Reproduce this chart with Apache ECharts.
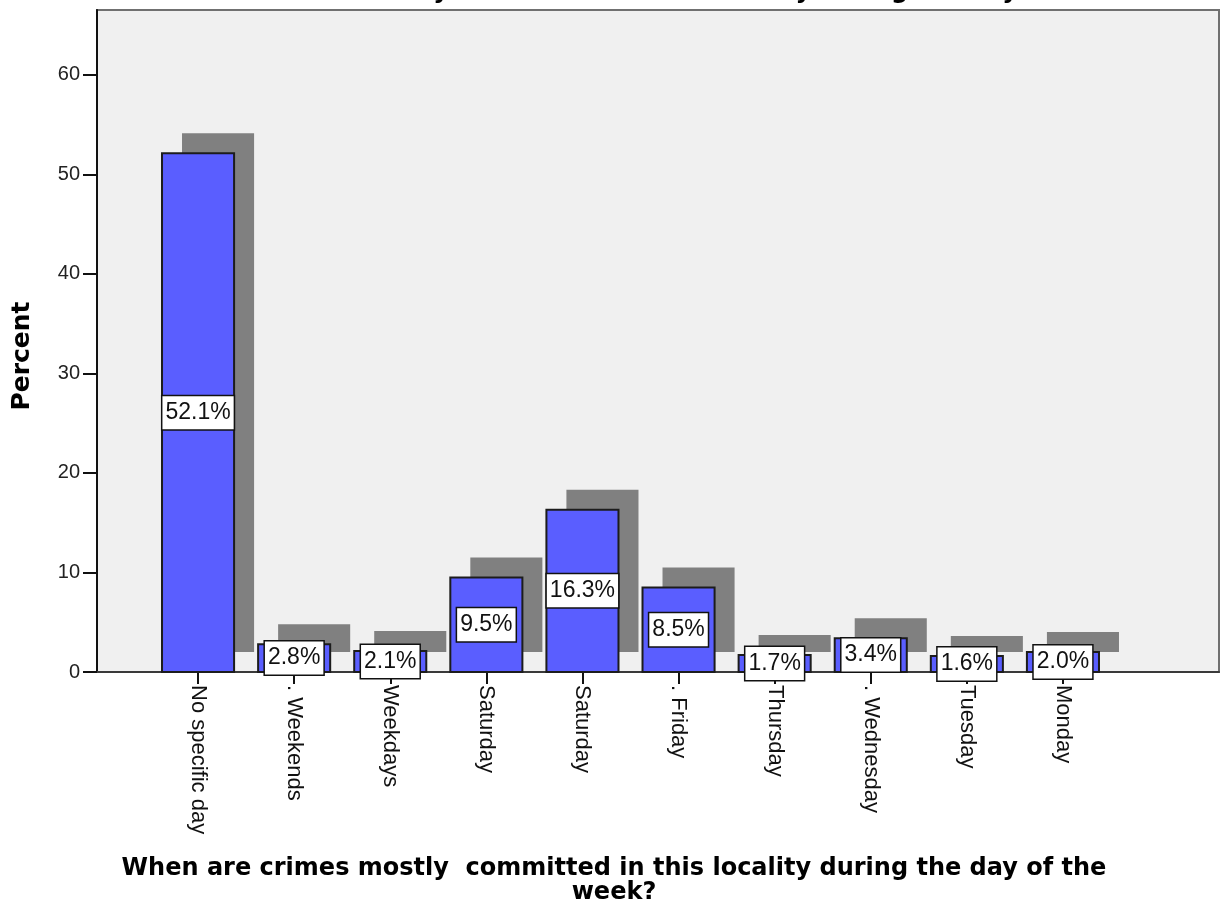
<!DOCTYPE html>
<html>
<head>
<meta charset="utf-8">
<script src="https://cdn.jsdelivr.net/npm/echarts@6/dist/echarts.min.js"></script>
<style>
  html, body { margin: 0; padding: 0; background: #fff; }
  #chart { width: 1228px; height: 915px; }
</style>
</head>
<body>
<div id="chart"></div>
<script>
// Response categories (in the order shown on the axis)
const categories = [
  'No specific day', '. Weekends', 'Weekdays', 'Saturday', 'Saturday',
  '. Friday', 'Thursday', '. Wednesday', 'Tuesday', 'Monday'
];
// Percent of respondents per category
const percents = [52.1, 2.8, 2.1, 9.5, 16.3, 8.5, 1.7, 3.4, 1.6, 2.0];
// Value axis settings
const yMin = 0;
const yMax = 66.5;
const yInterval = 10;

const titleText = 'When are crimes mostly  committed in this locality during the day of the';
const xTitle = 'When are crimes mostly  committed in this locality during the day of the\nweek?';
const yTitle = 'Percent';

const FONT = '"Liberation Sans", Arial, sans-serif';
const BOLD_FONT = '"DejaVu Sans", Verdana, sans-serif';

const chart = echarts.init(document.getElementById('chart'), null, { renderer: 'canvas' });

const seriesData = percents.map((v, i) => [i, v]);

// Each bar: an offset grey drop shadow, the blue bar, and a boxed value label at mid-height
function renderBar(params, api) {
  const idx = api.value(0);
  const val = api.value(1);
  const base = api.coord([idx, 0]);
  const top = api.coord([idx, val]);
  const bw = api.size([1, 0])[0] * 0.75;
  const off = 20;
  const h = base[1] - top[1];
  return {
    type: 'group',
    children: [
      {
        type: 'rect',
        shape: { x: base[0] - bw / 2 + off, y: top[1] - off, width: bw, height: h },
        style: { fill: '#808080' }
      },
      {
        type: 'rect',
        shape: { x: base[0] - bw / 2, y: top[1], width: bw, height: h },
        style: { fill: '#5a5eff', stroke: '#1c1c1c', lineWidth: 2 }
      },
      {
        type: 'text',
        x: base[0],
        y: (base[1] + top[1]) / 2,
        style: {
          text: val.toFixed(1) + '%',
          align: 'center',
          verticalAlign: 'middle',
          font: '23px ' + FONT,
          fill: '#111',
          backgroundColor: '#ffffff',
          borderColor: '#111',
          borderWidth: 1.5,
          padding: [6, 3, 4, 3]
        }
      }
    ]
  };
}

chart.setOption({
  backgroundColor: '#ffffff',
  animation: false,
  title: [
    {
      text: titleText,
      left: 'center',
      top: -26,
      textStyle: { fontFamily: BOLD_FONT, fontWeight: 'bold', fontSize: 24, color: '#000', lineHeight: 25 }
    },
    {
      text: xTitle,
      left: 'center',
      top: 852,
      textStyle: { fontFamily: BOLD_FONT, fontWeight: 'bold', fontSize: 24, color: '#000', lineHeight: 24 }
    }
  ],
  graphic: [
    {
      type: 'text',
      x: 22,
      y: 356,
      rotation: Math.PI / 2,
      style: {
        text: yTitle,
        align: 'center',
        verticalAlign: 'middle',
        font: 'bold 25px ' + BOLD_FONT,
        fill: '#000'
      }
    }
  ],
  grid: [
    {
      left: 97, right: 9, top: 10, bottom: 243,
      show: true,
      backgroundColor: '#f0f0f0',
      borderColor: '#707070',
      borderWidth: 2
    },
    {
      left: 150, right: 117, top: 10, bottom: 243
    }
  ],
  xAxis: [
    {
      gridIndex: 0,
      type: 'value',
      min: 0,
      max: 1,
      axisLine: { show: true, lineStyle: { color: '#3a3a3a', width: 2 } },
      axisTick: { show: false },
      axisLabel: { show: false },
      splitLine: { show: false }
    },
    {
      gridIndex: 1,
      type: 'category',
      data: categories,
      boundaryGap: true,
      axisLine: { show: false },
      axisTick: { show: true, alignWithLabel: true, length: 12, lineStyle: { color: '#111', width: 2 } },
      axisLabel: {
        rotate: -90,
        margin: 13,
        interval: 0,
        fontFamily: FONT,
        fontSize: 22,
        color: '#111',
        padding: [8, 0, 0, 0]
      },
      splitLine: { show: false }
    }
  ],
  yAxis: [
    {
      gridIndex: 0,
      type: 'value',
      min: yMin,
      max: yMax,
      interval: yInterval,
      axisLine: { show: true, lineStyle: { color: '#111', width: 2 } },
      axisTick: { show: true, length: 14, lineStyle: { color: '#111', width: 2 } },
      axisLabel: {
        margin: 17,
        fontFamily: FONT,
        fontSize: 20,
        color: '#222',
        showMaxLabel: false
      },
      splitLine: { show: false }
    },
    {
      gridIndex: 1,
      type: 'value',
      min: yMin,
      max: yMax,
      show: false
    }
  ],
  series: [
    {
      type: 'custom',
      xAxisIndex: 1,
      yAxisIndex: 1,
      renderItem: renderBar,
      encode: { x: 0, y: 1 },
      data: seriesData,
      z: 3
    }
  ]
});
</script>
</body>
</html>
